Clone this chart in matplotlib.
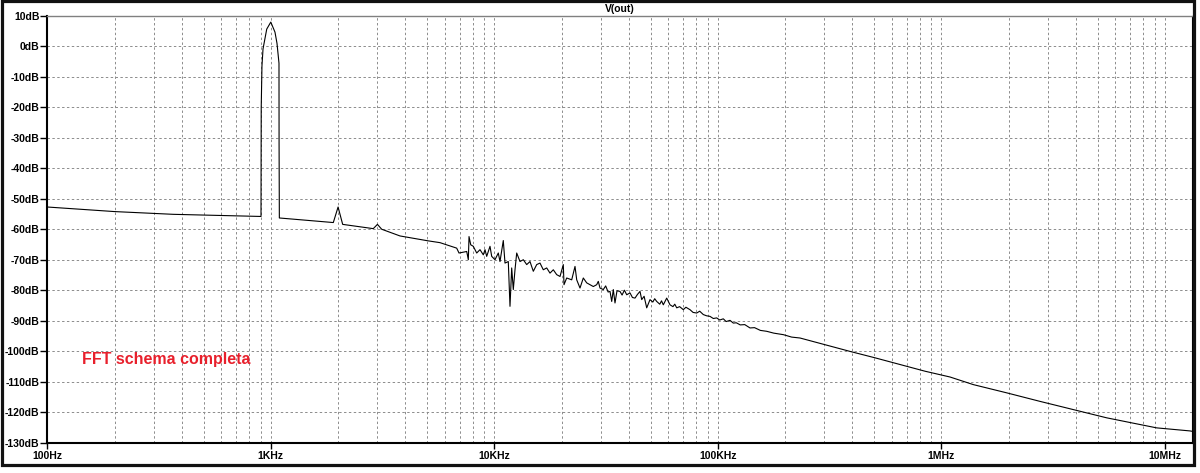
#LTspice style FFT plot of V(out)
import numpy as np
import matplotlib.pyplot as plt
from matplotlib.patches import Rectangle
from matplotlib.ticker import FixedLocator, LogLocator, NullFormatter

#frequency (Hz) and magnitude (dB)
freq = [100, 200, 366, 895, 904, 906, 913, 923, 959, 1000,
        1044, 1066, 1088, 1089, 1092, 1904, 2000, 2097, 2874, 3000,
        3135, 3785, 5050, 5715, 6788, 6951, 7526, 7652, 7707, 7843,
        8054, 8342, 8630, 8929, 9087, 9247, 9567, 9736, 10072, 10420,
        10604, 10970, 11166, 11550, 11755, 11962, 12162, 12377, 12596, 13032,
        13484, 13964, 14445, 14946, 15478, 16013, 16565, 17157, 17749, 18365,
        19018, 19679, 20357, 20507, 21083, 22198, 22968, 23374, 24179, 25016,
        25908, 26806, 27733, 28720, 29194, 29711, 30738, 31500, 32300, 32941,
        33523, 34077, 34674, 35400, 36502, 37300, 38200, 39122, 40478, 41500,
        42617, 43700, 44870, 45663, 46800, 48078, 49733, 51200, 52200, 53290,
        55000, 56000, 57041, 59072, 61108, 63000, 64200, 65497, 67500, 70080,
        72000, 75088, 77500, 80456, 83000, 86114, 89000, 92268, 95500, 98866,
        102000, 105826, 109000, 113390, 117324, 121000, 126000, 132000, 139350, 146000,
        155000, 165537, 178000, 196426, 214000, 233293, 301719, 390481, 505106, 653426,
        845570, 1094000, 1391000, 1962000, 2764000, 3896000, 5495000, 7745000, 9198000, 10914000,
        12963000, 13200000]
db = [-52.7, -54.2, -55.1, -55.8, -55.8, -20.0, -6.4, -0.8, 5.7, 8.0,
      4.7, 1.0, -5.5, -31.7, -56.3, -57.8, -52.7, -58.4, -59.8, -58.4,
      -60.0, -62.2, -63.8, -64.4, -66.2, -67.8, -67.3, -70.0, -62.4, -65.1,
      -65.6, -67.8, -66.7, -68.4, -66.7, -68.9, -65.6, -68.9, -70.0, -67.8,
      -70.6, -63.7, -71.1, -70.6, -85.3, -72.7, -79.8, -73.3, -67.8, -70.6,
      -70.0, -71.6, -70.6, -73.8, -71.6, -71.1, -73.3, -72.7, -74.4, -73.3,
      -74.9, -75.5, -71.6, -78.2, -76.0, -76.6, -72.2, -76.6, -79.3, -76.0,
      -77.6, -78.2, -78.8, -78.2, -77.1, -79.3, -79.8, -78.6, -80.6, -80.4,
      -83.7, -79.8, -84.2, -80.2, -80.4, -81.6, -80.0, -81.5, -80.9, -82.4,
      -82.6, -81.4, -80.4, -83.1, -82.0, -85.8, -83.1, -83.9, -82.8, -83.7,
      -84.6, -83.5, -84.8, -82.6, -84.8, -85.4, -84.6, -85.8, -85.4, -86.4,
      -85.6, -86.4, -87.3, -87.5, -86.9, -88.0, -88.4, -88.6, -89.3, -89.1,
      -89.8, -89.4, -90.3, -89.9, -90.8, -90.7, -91.4, -91.3, -92.4, -92.3,
      -93.2, -93.5, -94.1, -94.6, -95.4, -95.7, -97.9, -100.1, -102.2, -104.4,
      -106.6, -108.5, -111.0, -113.7, -116.5, -119.2, -121.9, -124.1, -125.2, -125.7,
      -126.2, -126.3]

xticks = [1e2, 1e3, 1e4, 1e5, 1e6, 1e7]
xlabels = ['100Hz', '1KHz', '10KHz', '100KHz', '1MHz', '10MHz']
yticks = list(range(-130, 11, 10))
ylabels = [f'{v}dB' for v in yticks]

plt.rcParams['font.family'] = ['Liberation Sans', 'DejaVu Sans']

W, H = 1200, 473
fig = plt.figure(figsize=(W / 100, H / 100), dpi=100)
#axes box in pixels: left 47, right 1192, top 16, bottom 442.5
ax = fig.add_axes([47.3 / W, 1 - 442.5 / H, (1192 - 47.3) / W, (442.5 - 16) / H])

ax.semilogx(freq, db, color='black', lw=0.8, zorder=3)
ax.set_xlim(100, 10 ** (2 + (1192 - 47.3) / 223.5))
ax.set_ylim(-130, 10)

#ticks and labels
ax.xaxis.set_major_locator(FixedLocator(xticks))
ax.set_xticklabels(xlabels, fontsize=7.5, fontweight='bold')
ax.xaxis.set_minor_locator(LogLocator(base=10, subs=np.arange(2, 10)))
ax.xaxis.set_minor_formatter(NullFormatter())
ax.set_yticks(yticks)
ax.set_yticklabels(ylabels, fontsize=7.5, fontweight='bold')
ax.tick_params(axis='y', which='major', length=5, width=1, pad=0.5, color='black')
ax.tick_params(axis='x', which='major', length=4, width=1, pad=2, color='black')
ax.tick_params(axis='x', which='minor', length=0)

#dashed grid
ax.set_axisbelow(True)
ax.grid(True, which='both', axis='x', color='#8c8c8c', lw=0.7, ls=(0, (2.5, 2.5)))
ax.grid(True, which='major', axis='y', color='#8c8c8c', lw=0.7, ls=(0, (2.5, 2.5)))

for side in ['left', 'bottom']:
    ax.spines[side].set_linewidth(1.5)
    ax.spines[side].set_color('black')
ax.spines['top'].set_color('#808080')
ax.spines['top'].set_linewidth(1)
ax.spines['right'].set_color('black')

#trace name and annotation
fig.text((47.3 + 1192) / 2 / W, 1 - 9 / H, 'V(out)', ha='center', va='center',
         fontsize=7.5, fontweight='bold')
ax.text(0.030, 0.1834, 'FFT schema completa', transform=ax.transAxes,
        color='#e8202c', fontsize=11.5, fontweight='bold', va='baseline', ha='left')

#window frame
frame = Rectangle((1.5 / W, 1 - 465 / H), (1193.5 - 1.5) / W, (465 - 1.5) / H,
                  transform=fig.transFigure, fill=False, edgecolor='#111111',
                  lw=2.3, zorder=10)
fig.add_artist(frame)

fig.savefig('out.png', dpi=100)
